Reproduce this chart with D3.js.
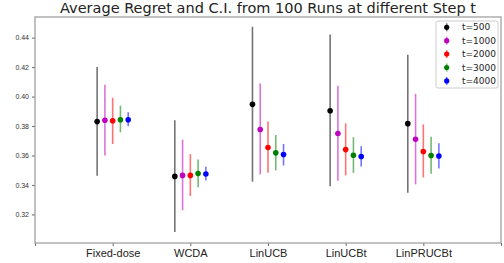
<!DOCTYPE html>
<html>
<head>
<meta charset="utf-8">
<script src="https://cdn.jsdelivr.net/npm/d3@7"></script>
<style>
  body { margin: 0; background: #fff; }
  svg { display: block; font-family: "DejaVu Sans", sans-serif; }
</style>
</head>
<body>
<div id="chart"></div>
<script>
// methods on the x axis
var methods = ["Fixed-dose", "WCDA", "LinUCB", "LinUCBt", "LinPRUCBt"];
var steps = ["t=500", "t=1000", "t=2000", "t=3000", "t=4000"];
var colors = ["#000000", "#bf00bf", "#ff0000", "#008000", "#0000ff"];

// mean regret per step, one array per method (order follows steps)
var meanFixed = [0.3830, 0.3839, 0.3836, 0.3843, 0.3843];
var meanWCDA = [0.3458, 0.3465, 0.3465, 0.3478, 0.3474];
var meanLinUCB = [0.3947, 0.3776, 0.3654, 0.3618, 0.3607];
var meanLinUCBt = [0.3904, 0.3749, 0.3640, 0.3602, 0.3593];
var meanLinPRUCBt = [0.3816, 0.3710, 0.3627, 0.3600, 0.3597];

// lower / upper ends of the C.I.
var lowFixed = [0.3462, 0.3600, 0.3678, 0.3757, 0.3798];
var highFixed = [0.4200, 0.4080, 0.3992, 0.3938, 0.3893];
var lowWCDA = [0.3080, 0.3228, 0.3325, 0.3384, 0.3431];
var highWCDA = [0.3839, 0.3708, 0.3609, 0.3573, 0.3523];
var lowLinUCB = [0.3422, 0.3472, 0.3482, 0.3499, 0.3532];
var highLinUCB = [0.4474, 0.4089, 0.3830, 0.3739, 0.3678];
var lowLinUCBt = [0.3391, 0.3428, 0.3465, 0.3482, 0.3526];
var highLinUCBt = [0.4422, 0.4073, 0.3818, 0.3724, 0.3663];
var lowLinPRUCBt = [0.3347, 0.3404, 0.3451, 0.3476, 0.3512];
var highLinPRUCBt = [0.4284, 0.4019, 0.3811, 0.3728, 0.3683];

var yTicks = [0.32, 0.34, 0.36, 0.38, 0.40, 0.42, 0.44];
var offsets = [-0.2, -0.1, 0, 0.1, 0.2];

var means = [meanFixed, meanWCDA, meanLinUCB, meanLinUCBt, meanLinPRUCBt];
var lows = [lowFixed, lowWCDA, lowLinUCB, lowLinUCBt, lowLinPRUCBt];
var highs = [highFixed, highWCDA, highLinUCB, highLinUCBt, highLinPRUCBt];

var width = 504, height = 263;
var margin = { top: 17, right: 3, bottom: 20, left: 35 };

var svg = d3.select("#chart").append("svg")
    .attr("width", width)
    .attr("height", height);

var x = d3.scaleLinear().domain([0, 6]).range([margin.left, width - margin.right]);
var y = d3.scaleLinear().domain([0.3006, 0.454]).range([height - margin.bottom, margin.top]);

// flatten into points
var points = [];
methods.forEach(function (m, i) {
    steps.forEach(function (s, j) {
        points.push({
            pos: i + 1 + offsets[j],
            mean: means[i][j],
            low: lows[i][j],
            high: highs[i][j],
            color: colors[j]
        });
    });
});

var g = svg.append("g");

g.selectAll("line.err")
    .data(points)
    .enter()
    .append("line")
    .attr("class", "err")
    .attr("x1", function (d) { return x(d.pos); })
    .attr("x2", function (d) { return x(d.pos); })
    .attr("y1", function (d) { return y(d.low); })
    .attr("y2", function (d) { return y(d.high); })
    .attr("stroke", function (d) { return d.color; })
    .attr("stroke-opacity", 0.55)
    .attr("stroke-width", 1.6);

g.selectAll("circle.pt")
    .data(points)
    .enter()
    .append("circle")
    .attr("class", "pt")
    .attr("cx", function (d) { return x(d.pos); })
    .attr("cy", function (d) { return y(d.mean); })
    .attr("r", 2.8)
    .attr("fill", function (d) { return d.color; });

// axes
var yAxis = d3.axisLeft(y).tickValues(yTicks).tickSize(3).tickFormat(d3.format(".2f"));
var gy = svg.append("g")
    .attr("transform", "translate(" + margin.left + ",0)")
    .call(yAxis);
gy.selectAll("text").style("font-size", "7px").attr("fill", "#333");

var xAxis = d3.axisBottom(x).tickValues([0, 1, 2, 3, 4, 5, 6]).tickSize(3)
    .tickFormat(function (d) { return (d >= 1 && d <= 5) ? methods[d - 1] : ""; });
var gx = svg.append("g")
    .attr("transform", "translate(0," + (height - margin.bottom) + ")")
    .call(xAxis);
gx.selectAll("text").style("font-size", "11px").attr("fill", "#222").attr("dy", "0.72em");

svg.selectAll(".domain").remove();
svg.selectAll(".tick line").attr("stroke", "#666");

// frame
svg.append("rect")
    .attr("x", margin.left)
    .attr("y", margin.top)
    .attr("width", width - margin.left - margin.right)
    .attr("height", height - margin.top - margin.bottom)
    .attr("fill", "none")
    .attr("stroke", "#999")
    .attr("stroke-width", 1.2);

// title
svg.append("text")
    .attr("x", (margin.left + width - margin.right) / 2)
    .attr("y", 13)
    .attr("text-anchor", "middle")
    .style("font-size", "14.5px")
    .attr("fill", "#222")
    .text("Average Regret and C.I. from 100 Runs at different Step t");

// legend
var legend = svg.append("g");
legend.append("rect")
    .attr("x", 436)
    .attr("y", 21)
    .attr("width", 62)
    .attr("height", 67)
    .attr("rx", 2)
    .attr("fill", "#fff")
    .attr("stroke", "#ccc");

steps.forEach(function (s, j) {
    var ly = 27.3 + j * 13.4;
    legend.append("line")
        .attr("x1", 446.7).attr("x2", 446.7)
        .attr("y1", ly - 4).attr("y2", ly + 4)
        .attr("stroke", colors[j])
        .attr("stroke-opacity", 0.55)
        .attr("stroke-width", 1.6);
    legend.append("circle")
        .attr("cx", 446.7).attr("cy", ly).attr("r", 2.6)
        .attr("fill", colors[j]);
    legend.append("text")
        .attr("x", 462)
        .attr("y", ly)
        .attr("dominant-baseline", "central")
        .style("font-size", "9px")
        .attr("fill", "#222")
        .text(s);
});
</script>
</body>
</html>
